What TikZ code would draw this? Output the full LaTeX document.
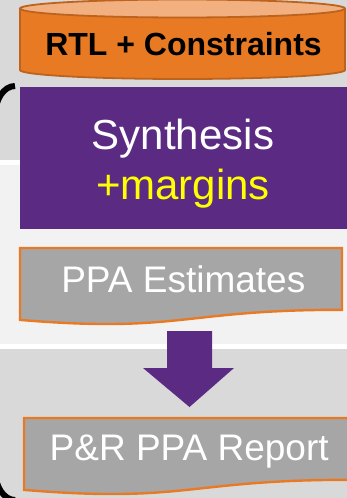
\documentclass[tikz,border=0pt]{standalone}
\usepackage{fontspec}
\setmainfont{Liberation Sans}
\definecolor{bandDark}{HTML}{D9D9D9}
\definecolor{bandLight}{HTML}{F2F2F2}
\definecolor{canBody}{HTML}{E77A23}
\definecolor{canTop}{HTML}{F2AF7F}
\definecolor{canEdge}{HTML}{BC631E}
\definecolor{synPurple}{HTML}{5B2A83}
\definecolor{docGray}{HTML}{A6A6A6}
\definecolor{docEdge}{HTML}{E87A25}
\definecolor{marginYellow}{HTML}{FFFF00}
\tikzset{
  label text/.style={inner sep=0pt, anchor=base},
  doc box/.style={fill=docGray, draw=docEdge, line width=2.4pt, line join=miter},
  can edge/.style={draw=canEdge, line width=1.8pt},
}
\begin{document}
\begin{tikzpicture}[x=1pt,y=1pt]
\useasboundingbox (0,0) rectangle (347,-498);
% background bands
\fill[bandDark] (0,0) rectangle (347,-159.5);
\fill[white] (0,-159.5) rectangle (347,-164.5);
\fill[bandLight] (0,-164.5) rectangle (347,-343.5);
\fill[white] (0,-343.5) rectangle (347,-348.5);
\fill[bandDark] (0,-348.5) rectangle (347,-498);

% left bracket
\draw[line width=6pt] (15,-86) arc[start angle=90, end angle=180, x radius=20, y radius=30]
  -- (-5,-470) arc[start angle=180, end angle=270, x radius=20, y radius=30];

% database cylinder
\fill[canBody] (20,-8.5) -- (20,-70) arc[start angle=180, end angle=360, x radius=162.5, y radius=9] -- (345,-8.5) -- cycle;
\draw[can edge] (20,-8.5) -- (20,-70) arc[start angle=180, end angle=360, x radius=162.5, y radius=9] -- (345,-8.5);
\filldraw[fill=canTop, can edge] (182.5,-8.5) ellipse[x radius=162.5, y radius=9];
\node[label text, font=\fontsize{32}{38}\selectfont\bfseries] (rtl) at (183.5,-55) {RTL + Constraints};

% synthesis block
\fill[synPurple] (20,-87) rectangle (350,-229);
\node[label text, text=white, font=\fontsize{42}{50}\selectfont] (synth) at (183,-149) {Synthesis};
\node[label text, text=marginYellow, font=\fontsize{42}{50}\selectfont] (margins) at (183,-199) {+margins};

% estimate document
\path[doc box] (20,-248) -- (342,-248) -- (342,-309.8)
  .. controls (181,-309.8) and (181,-333.3) .. (20,-319.9) -- cycle;
\node[label text, text=white, font=\fontsize{37}{44}\selectfont] (est) at (183.3,-292.7) {PPA Estimates};

% down arrow
\fill[synPurple] (167,-331) -- (212,-331) -- (212,-368) -- (234,-368) -- (189.5,-407)
  -- (143,-368) -- (167,-368) -- cycle;

% report document
\path[doc box] (24,-418) -- (350,-418) -- (350,-479.8)
  .. controls (187,-479.8) and (187,-503.3) .. (24,-489.9) -- cycle;
\node[label text, text=white, font=\fontsize{37}{44}\selectfont] (report) at (189.2,-460) {P\&R PPA Report};
\end{tikzpicture}
\end{document}
